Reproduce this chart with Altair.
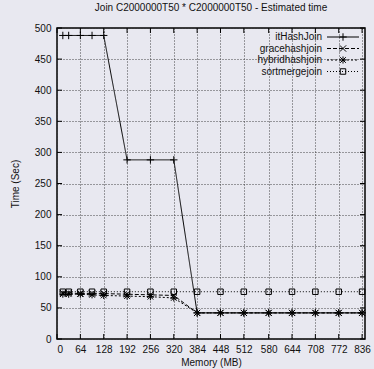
import altair as alt
import pandas as pd

# Memory sizes (MB) at which each join was estimated
memory_mb = [16, 32, 64, 96, 128, 192, 256, 320, 384, 448, 512, 580, 644, 708, 772, 836]

# Estimated time (seconds) per join algorithm
ithashjoin = [488, 488, 488, 488, 488, 288, 288, 288, 42, 42, 42, 42, 42, 42, 42, 42]
gracehashjoin = [74, 74, 73, 73, 73, 72, 71, 70, 42, 42, 42, 42, 42, 42, 42, 42]
hybridhashjoin = [72, 72, 72, 71, 70, 69, 68, 66, 42, 42, 42, 42, 42, 42, 42, 42]
sortmergejoin = [76, 76, 76, 76, 76, 76, 76, 76, 76, 76, 76, 76, 76, 76, 76, 76]

series_names = ["itHashJoin", "gracehashjoin", "hybridhashjoin", "sortmergejoin"]
series_values = [ithashjoin, gracehashjoin, hybridhashjoin, sortmergejoin]

x_ticks = [0, 64, 128, 192, 256, 320, 384, 448, 512, 580, 644, 708, 772, 836]
y_ticks = [0, 50, 100, 150, 200, 250, 300, 350, 400, 450, 500]

W, H = 308, 311
FONT = "Liberation Sans"
BG = "#e8e8f0"
INK = "#000000"

# gnuplot-like line styles and point glyphs
dashes = [[1, 0], [4, 2], [2, 2], [1, 2]]
PLUS = "M-1,0L1,0M0,-1L0,1"
CROSS = "M-1,-1L1,1M-1,1L1,-1"
STAR = "M-1,0L1,0M0,-1L0,1M-0.8,-0.8L0.8,0.8M-0.8,0.8L0.8,-0.8"
shapes = [PLUS, CROSS, STAR, "square"]
sizes = [55, 40, 50, 30]

xs = alt.Scale(domain=[0, 844], nice=False, zero=False)
ys = alt.Scale(domain=[0, 500], nice=False)

x_axis = alt.Axis(values=x_ticks, title="Memory (MB)", grid=True, ticks=False,
                  domain=False, labelPadding=5, titlePadding=3)
y_axis = alt.Axis(values=y_ticks, title="Time (Sec)", grid=True, ticks=False,
                  domain=False, labelPadding=6, titlePadding=14)


def X(field):
    return alt.X(field, scale=xs, axis=x_axis)


def Y(field):
    return alt.Y(field, scale=ys, axis=y_axis)


rows = []
for name, vals in zip(series_names, series_values):
    for m, v in zip(memory_mb, vals):
        rows.append({"series": name, "memory": m, "time": v})
df = pd.DataFrame(rows)

layers = []

# inward tick marks on all four borders
xt = pd.DataFrame({"tick": x_ticks})
yt = pd.DataFrame({"tick": y_ticks})
for y0, y1 in [(H, H - 5), (0, 5)]:
    layers.append(alt.Chart(xt).mark_rule(color=INK, strokeWidth=1).encode(
        x=X("tick:Q"), y=alt.value(y0), y2=alt.value(y1)))
for x0, x1 in [(0, 5), (W, W - 5)]:
    layers.append(alt.Chart(yt).mark_rule(color=INK, strokeWidth=1).encode(
        y=Y("tick:Q"), x=alt.value(x0), x2=alt.value(x1)))

for i, name in enumerate(series_names):
    sub = df[df.series == name]
    layers.append(alt.Chart(sub).mark_line(
        color=INK, strokeWidth=1, strokeDash=dashes[i]).encode(
        x=X("memory:Q"), y=Y("time:Q")))
    layers.append(alt.Chart(sub).mark_point(
        shape=shapes[i], size=sizes[i], filled=False, color=INK,
        strokeWidth=1, opacity=1).encode(
        x=X("memory:Q"), y=Y("time:Q")))

# key in the upper right corner: label, then line sample with its glyph
key_df = pd.DataFrame({"series": series_names})
for i, name in enumerate(series_names):
    ky = 9 + i * 11.5
    one = key_df[key_df.series == name]
    layers.append(alt.Chart(one).mark_text(
        align="right", baseline="middle", font=FONT, fontSize=10, color="#111").encode(
        text="series:N", x=alt.value(265), y=alt.value(ky)))
    layers.append(alt.Chart(one).mark_rule(
        color=INK, strokeWidth=1, strokeDash=dashes[i]).encode(
        x=alt.value(270), x2=alt.value(302), y=alt.value(ky)))
    layers.append(alt.Chart(one).mark_point(
        shape=shapes[i], size=sizes[i], filled=False, color=INK,
        strokeWidth=1, opacity=1).encode(
        x=alt.value(286), y=alt.value(ky)))

chart = alt.layer(*layers).properties(
    width=W, height=H,
    title=alt.TitleParams("Join C2000000T50 * C2000000T50 - Estimated time",
                          font=FONT, fontSize=10, fontWeight="normal",
                          color="#111", offset=10),
    padding={"left": 57, "top": 28, "right": 9, "bottom": 30},
    autosize=alt.AutoSizeParams(type="none"),
).configure(
    background=BG
).configure_view(
    stroke=INK, strokeWidth=1.5, fill=BG
).configure_axis(
    labelFont=FONT, labelFontSize=10, labelColor="#111",
    titleFont=FONT, titleFontSize=10, titleFontWeight="normal", titleColor="#111",
    gridColor="#333", gridDash=[1, 2], gridWidth=1, gridOpacity=0.9,
)

chart.save("out.html", embed_options={"renderer": "svg", "actions": False})
